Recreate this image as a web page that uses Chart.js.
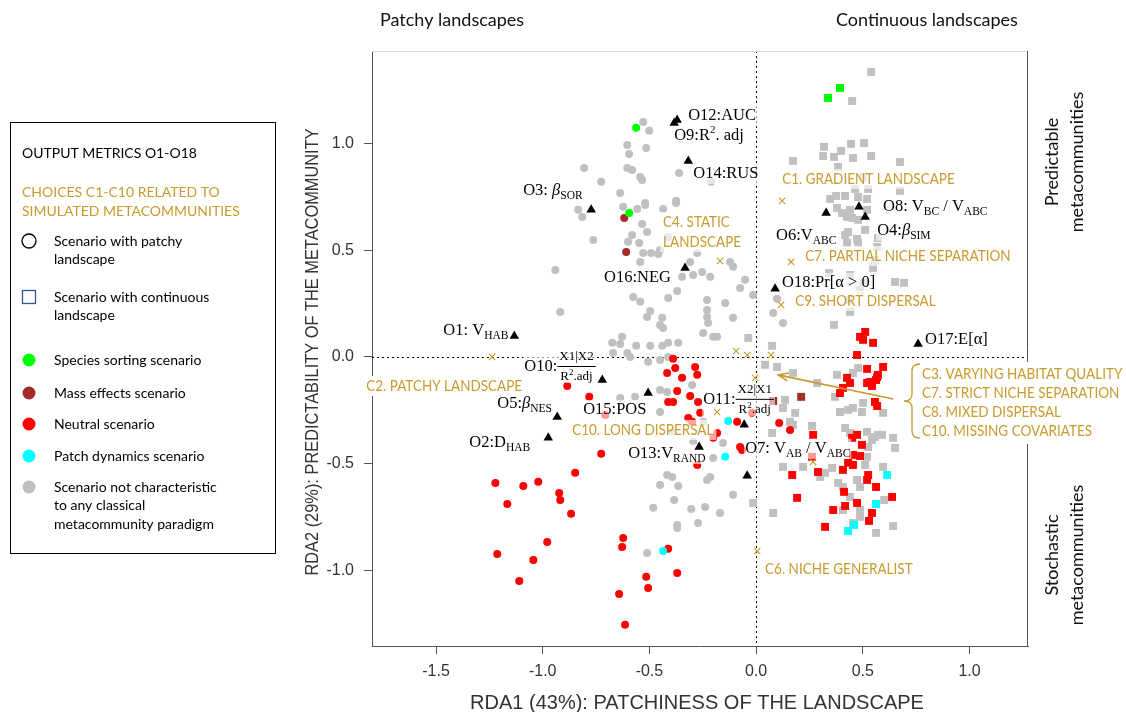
<!DOCTYPE html>
<html>
<head>
<meta charset="utf-8">
<script src="https://cdn.jsdelivr.net/npm/chart.js@4.4.0/dist/chart.umd.min.js"></script>
<style>
  html, body { margin: 0; padding: 0; background: #fff; }
  #wrap { width: 1126px; height: 712px; }
</style>
</head>
<body>
<div id="wrap"><canvas id="rda" width="1126" height="712"></canvas></div>
<script>
// axis ticks
const xTicks = [-1.5, -1.0, -0.5, 0.0, 0.5, 1.0];
const yTicks = [-1.0, -0.5, 0.0, 0.5, 1.0];

// patchy-landscape scenarios (circles)
const patchyGrey = [
  [-0.529, 1.101], [-0.501, 1.059], [-0.604, 0.993], [-0.595, 0.951], [-0.515, 0.979], [-0.806, 0.885],
  [-0.604, 0.885], [-0.581, 0.876], [-0.543, 0.843], [-0.534, 0.829], [-0.726, 0.820], [-0.361, 0.862],
  [-0.211, 0.820], [-0.637, 0.768], [-0.375, 0.731], [-0.520, 0.721], [-0.941, 0.407], [-0.918, 0.211],
  [-0.834, 0.689], [-0.815, 0.656], [-0.623, 0.703], [-0.557, 0.693], [-0.520, 0.712], [-0.436, 0.693],
  [-0.375, 0.721], [-0.534, 0.623], [-0.511, 0.585], [-0.581, 0.571], [-0.600, 0.539], [-0.548, 0.534],
  [-0.763, 0.548], [-0.529, 0.487], [-0.492, 0.487], [-0.543, 0.445], [-0.450, 0.501], [-0.459, 0.482],
  [-0.412, 0.562], [-0.276, 0.487], [-0.309, 0.445], [-0.122, 0.445], [-0.108, 0.422], [-0.253, 0.398],
  [-0.215, 0.375], [-0.347, 0.375], [-0.295, 0.384], [-0.052, 0.361], [-0.075, 0.323], [-0.014, 0.290],
  [-0.370, 0.309], [-0.576, 0.281], [-0.543, 0.258], [-0.412, 0.276], [-0.230, 0.267], [-0.145, 0.253],
  [-0.496, 0.215], [-0.440, 0.183], [-0.511, 0.187], [-0.230, 0.220], [-0.230, 0.187], [-0.225, 0.159],
  [-0.450, 0.150], [-0.436, 0.136], [-0.108, 0.183], [-0.628, 0.094], [-0.674, 0.066], [-0.637, 0.061],
  [-0.562, 0.052], [-0.496, 0.052], [-0.440, 0.052], [-0.412, 0.066], [-0.365, 0.066], [-0.248, 0.112],
  [-0.201, 0.094], [-0.183, 0.094], [-0.604, 0.019], [-0.590, 0.000], [-0.670, 0.019], [-0.506, -0.023],
  [-0.450, -0.014], [-0.412, 0.000], [-0.300, -0.131], [-0.637, -0.192], [-0.567, -0.187], [-0.450, -0.155],
  [-0.417, -0.164], [-0.450, -0.258], [-0.248, -0.304], [-0.393, -0.351], [-0.295, -0.398], [-0.155, -0.403],
  [-0.201, -0.473], [-0.417, -0.553], [-0.393, -0.562], [-0.215, -0.562], [-0.230, -0.576], [-0.365, -0.604],
  [-0.450, -0.600], [-0.108, -0.646], [-0.239, -0.703], [-0.169, -0.731], [-0.482, -0.707], [-0.384, -0.670],
  [-0.304, -0.712], [-0.370, -0.787], [-0.370, -0.801], [-0.272, -0.778], [-0.511, -0.918],
  [0.080, 0.206], [0.126, 0.159], [0.098, 0.272],
];
const patchyRed = [
  [-0.389, -0.009], [-0.379, -0.052], [-0.417, -0.075], [-0.347, -0.098], [-0.286, -0.047], [-0.276, -0.084],
  [-0.885, -0.136], [-0.782, -0.187], [-0.370, -0.159], [-0.412, -0.211], [-0.389, -0.211], [-0.309, -0.183],
  [-0.272, -0.211], [-0.262, -0.262], [-0.019, -0.262], [-0.089, -0.304], [-0.075, -0.422], [-0.066, -0.436],
  [-0.276, -0.506], [-0.726, -0.454], [-0.848, -0.543], [-1.222, -0.590], [-1.091, -0.604], [-1.021, -0.585],
  [-0.923, -0.637], [-0.918, -0.670], [-1.166, -0.689], [-0.867, -0.735], [-0.979, -0.867], [-1.213, -0.923],
  [-1.044, -0.951], [-1.110, -1.049], [-0.623, -0.848], [-0.628, -0.890], [-0.412, -0.899], [-0.370, -1.012],
  [-0.515, -1.030], [-0.506, -1.082], [-0.642, -1.110], [-0.614, -1.255], [0.108, -0.309], [0.159, -0.342],
  [-0.707, -0.272], [-0.318, -0.286], [-0.300, -0.304], [-0.183, -0.356], [-0.201, -0.379],
];
const patchyGreen = [[-0.562, 1.073], [-0.595, 0.674]];
const patchyBrown = [[-0.618, 0.651], [-0.609, 0.492]];
const patchyCyan = [[-0.131, -0.300], [-0.145, -0.468], [-0.436, -0.909]];

// continuous-landscape scenarios (squares)
const contGrey = [
  [0.539, 1.335], [0.450, 1.199], [0.318, 0.984], [0.445, 0.998], [0.506, 1.002], [0.398, 0.965],
  [0.314, 0.941], [0.365, 0.937], [0.454, 0.932], [0.539, 0.941], [0.173, 0.918], [0.674, 0.913],
  [0.384, 0.890], [0.501, 0.843], [0.464, 0.787], [0.525, 0.787], [0.674, 0.778], [0.347, 0.740],
  [0.375, 0.754], [0.417, 0.754], [0.478, 0.749], [0.520, 0.740], [0.403, 0.674], [0.426, 0.656],
  [0.450, 0.651], [0.478, 0.642], [0.440, 0.689], [0.379, 0.698], [0.520, 0.689], [0.511, 0.595],
  [0.431, 0.585], [0.417, 0.571], [0.473, 0.553], [0.478, 0.534], [0.426, 0.534], [0.571, 0.557],
  [0.567, 0.515], [0.557, 0.454], [0.548, 0.417], [0.342, 0.393], [0.440, 0.384], [0.651, 0.351],
  [0.693, 0.347], [0.501, 0.351], [0.487, 0.314], [0.431, 0.267], [0.440, 0.211], [0.365, 0.150],
  [0.075, 0.052], [-0.037, 0.089], [0.478, -0.052], [0.454, -0.075], [0.379, -0.084], [0.501, -0.215],
  [0.393, -0.258], [0.431, -0.248], [0.454, -0.239], [0.496, -0.258], [0.370, -0.187], [0.595, -0.262],
  [0.042, -0.037], [0.098, -0.047], [0.173, -0.075], [0.286, -0.122], [0.136, -0.201], [0.126, -0.239],
  [0.183, -0.262], [0.159, -0.304], [0.173, -0.318], [0.075, -0.356], [0.262, -0.323], [0.417, -0.333],
  [0.440, -0.356], [0.520, -0.351], [0.543, -0.389], [0.571, -0.365], [0.590, -0.365], [0.642, -0.379],
  [0.651, -0.426], [0.557, -0.375], [0.525, -0.422], [0.520, -0.468], [0.511, -0.506], [0.595, -0.515],
  [0.473, -0.576], [0.487, -0.609], [0.384, -0.590], [0.407, -0.609], [0.323, -0.543], [0.356, -0.520],
  [0.300, -0.562], [0.126, -0.515], [0.220, -0.515], [0.440, -0.656], [0.487, -0.717], [0.080, -0.731],
  [-0.014, -0.684], [0.407, -0.717], [0.487, -0.749], [0.454, -0.778], [0.562, -0.824], [0.642, -0.792],
  [0.600, -0.670],
];
const contRed = [
  [0.487, 0.094], [0.501, 0.080], [0.548, 0.066], [0.511, 0.117], [0.473, 0.009], [0.520, -0.056],
  [0.567, -0.094], [0.595, -0.047], [0.571, -0.084], [0.534, -0.117], [0.520, -0.122], [0.543, -0.136],
  [0.562, -0.108], [0.426, -0.098], [0.440, -0.122], [0.393, -0.169], [0.407, -0.145], [0.557, -0.211],
  [0.567, -0.230], [0.267, -0.365], [0.450, -0.379], [0.473, -0.365], [0.496, -0.412], [0.454, -0.459],
  [0.487, -0.464], [0.431, -0.496], [0.454, -0.506], [0.262, -0.468], [0.290, -0.539], [0.169, -0.553],
  [0.407, -0.529], [0.525, -0.553], [0.520, -0.576], [0.562, -0.609], [0.412, -0.632], [0.473, -0.684],
  [0.417, -0.698], [0.361, -0.717], [0.192, -0.660], [0.637, -0.656], [0.543, -0.731], [0.529, -0.768],
  [0.323, -0.796],
];
const contGreen = [[0.393, 1.260], [0.337, 1.213]];
const contBrown = [[0.211, -0.187], [0.080, -0.206]];
const contCyan = [[0.614, -0.553], [0.562, -0.689], [0.459, -0.787], [0.431, -0.815]];

// output metrics O1..O18 (triangles)
const metricIds = ['O1', 'O2', 'O3', 'O4', 'O5', 'O6', 'O7', 'O8', 'O9', 'O10', 'O11', 'O12', 'O13', 'O14', 'O15', 'O16', 'O17', 'O18'];
const metricX = [-1.133, -0.974, -0.773, 0.511, -0.932, 0.328, -0.042, 0.482, -0.384, -0.721, -0.056, -0.370, -0.267, -0.318, -0.506, -0.333, 0.759, 0.089];
const metricY = [0.098, -0.379, 0.689, 0.656, -0.281, 0.674, -0.557, 0.703, 1.096, -0.108, -0.318, 1.110, -0.422, 0.918, -0.169, 0.417, 0.061, 0.319];

// choices C1..C10 centroids (crosses)
const choicePoints = [
  [0.122, 0.731], [-0.169, 0.450], [0.164, 0.445], [0.117, 0.244], [-1.237, 0.000], [-0.094, 0.028],
  [-0.042, 0.009], [-0.005, -0.098], [0.070, 0.009], [-0.183, -0.258], [0.267, -0.492], [0.005, -0.909],
];

const GOLD = '#c99a2e';
const GREY = '#c0c0c0';
const SERIF = '"Liberation Serif", "Times New Roman", serif';
const SANS = 'Lato, "Noto Sans", sans-serif';
const GOLD_SX = 0.9;

// rich text for metric labels: [text, style]
const frac = (num) => ({ frac: [[[num, 'fs']], [['R', 'fs'], ['2', 'fsup'], ['.adj', 'fs']]] });
const metricText = {
  O1: [['O1: V'], ['HAB', 'sub']],
  O2: [['O2:D'], ['HAB', 'sub']],
  O3: [['O3: '], ['β', 'gi'], ['SOR', 'sub']],
  O4: [['O4:'], ['β', 'gi'], ['SIM', 'sub']],
  O5: [['O5:'], ['β', 'gi'], ['NES', 'sub']],
  O6: [['O6:V'], ['ABC', 'sub']],
  O7: [['O7: V'], ['AB', 'sub'], [' / V'], ['ABC', 'sub']],
  O8: [['O8: V'], ['BC', 'sub'], [' / V'], ['ABC', 'sub']],
  O9: [['O9:R'], ['2', 'sup'], ['. adj']],
  O10: [['O10:'], frac('X1|X2')],
  O11: [['O11:'], frac('X2|X1')],
  O12: [['O12:AUC']],
  O13: [['O13:V'], ['RAND', 'sub']],
  O14: [['O14:RUS']],
  O15: [['O15:POS']],
  O16: [['O16:NEG']],
  O17: [['O17:E[α]']],
  O18: [['O18:Pr[α > 0]']],
};
// label offsets from the triangle, in pixels
const metricOffset = {
  O1: [-71, -5], O2: [-79, 5], O3: [-68, -19], O4: [12, 14], O5: [-60, -13], O6: [-50, 23],
  O7: [-2, -27], O8: [24, 0], O9: [0, 13], O10: [-78, -13], O11: [-41, -25], O12: [11, -4],
  O13: [-71, 7], O14: [5, 13], O15: [-65, 17], O16: [-81, 10], O17: [7, -4], O18: [7, -6],
};

const choiceLabels = [
  { lines: ['C1. GRADIENT LANDSCAPE'], x: 0.122, y: 0.834 },
  { lines: ['C4. STATIC', 'LANDSCAPE'], x: -0.436, y: 0.632 },
  { lines: ['C7. PARTIAL NICHE SEPARATION'], x: 0.230, y: 0.473 },
  { lines: ['C9. SHORT DISPERSAL'], x: 0.183, y: 0.262 },
  { lines: ['C2. PATCHY LANDSCAPE'], x: -1.827, y: -0.136, solid: true },
  { lines: ['C10. LONG DISPERSAL'], x: -0.862, y: -0.342 },
  { lines: ['C6. NICHE GENERALIST'], x: 0.042, y: -0.993 },
];
const groupLines = ['C3. VARYING HABITAT QUALITY', 'C7. STRICT NICHE SEPARATION', 'C8. MIXED DISPERSAL', 'C10. MISSING COVARIATES'];

const legendRows = [
  { mark: 'ring', lines: ['Scenario with patchy', 'landscape'], y: 241 },
  { mark: 'box', lines: ['Scenario with continuous', 'landscape'], y: 297 },
  { mark: '#00ff00', lines: ['Species sorting scenario'], y: 360 },
  { mark: '#a52a2a', lines: ['Mass effects scenario'], y: 393 },
  { mark: '#ff0000', lines: ['Neutral scenario'], y: 424 },
  { mark: '#00ffff', lines: ['Patch dynamics scenario'], y: 456 },
  { mark: GREY, lines: ['Scenario not characteristic', 'to any classical', 'metacommunity paradigm'], y: 487 },
];

function fontFor(st) {
  switch (st) {
    case 'sub': return `11.5px ${SERIF}`;
    case 'sup': return `11px ${SERIF}`;
    case 'gi': return `italic 16.5px ${SERIF}`;
    case 'fs': return `13px ${SERIF}`;
    case 'fsup': return `9px ${SERIF}`;
    default: return `16.5px ${SERIF}`;
  }
}
const shift = { sub: 5, sup: -6, fsup: -4 };

function runSegs(ctx, segs, x, y, draw) {
  let cx = x;
  segs.forEach((s) => {
    if (s.frac) {
      const [num, den] = s.frac;
      const nw = runSegs(ctx, num, 0, 0, false);
      const dw = runSegs(ctx, den, 0, 0, false);
      const w = Math.max(nw, dw) + 4;
      if (draw) {
        runSegs(ctx, num, cx + (w - nw) / 2, y - 10, true);
        runSegs(ctx, den, cx + (w - dw) / 2, y + 10, true);
        ctx.fillRect(cx, y - 1, w, 1);
      }
      cx += w;
      return;
    }
    const [t, st = 'n'] = s;
    ctx.font = fontFor(st);
    if (draw) ctx.fillText(t, cx, y + (shift[st] || 0));
    cx += ctx.measureText(t).width;
  });
  return cx - x;
}

function squeezed(ctx, t, x, y, sx) {
  ctx.save();
  ctx.translate(x, y);
  ctx.scale(sx, 1);
  ctx.fillText(t, 0, 0);
  ctx.restore();
}

const toPts = (arr) => arr.map(([x, y]) => ({ x, y }));

function set(data, style, color, radius, extra = {}) {
  return Object.assign({
    data: toPts(data), pointStyle: style, pointRadius: radius, pointHoverRadius: radius,
    backgroundColor: color, borderColor: color, pointBorderWidth: 0, showLine: false,
  }, extra);
}

function drawLabels(chart) {
  const { ctx, scales: { x, y } } = chart;
  ctx.save();
  ctx.textBaseline = 'middle';
  ctx.textAlign = 'left';

  // gold choice labels on a faded white box
  ctx.font = `15px ${SANS}`;
  choiceLabels.forEach((c) => {
    const lx = x.getPixelForValue(c.x);
    const ly = y.getPixelForValue(c.y);
    const w = Math.max(...c.lines.map((l) => ctx.measureText(l).width)) * GOLD_SX;
    ctx.fillStyle = c.solid ? '#fff' : 'rgba(255,255,255,0.65)';
    ctx.fillRect(lx - 3, ly - 10, w + 6, 20 * (c.lines.length - 1) + 20);
  });
  ctx.fillStyle = GOLD;
  choiceLabels.forEach((c) => {
    const lx = x.getPixelForValue(c.x);
    const ly = y.getPixelForValue(c.y);
    c.lines.forEach((l, i) => squeezed(ctx, l, lx, ly + i * 20, GOLD_SX));
  });

  // metric labels
  metricIds.forEach((id, i) => {
    const [dx, dy] = metricOffset[id];
    const lx = x.getPixelForValue(metricX[i]) + dx;
    const ly = y.getPixelForValue(metricY[i]) + dy;
    const w = runSegs(ctx, metricText[id], lx, ly, false);
    const h = metricText[id].some((s) => s.frac) ? 32 : 20;
    ctx.fillStyle = 'rgba(255,255,255,0.6)';
    ctx.fillRect(lx - 1, ly - h / 2, w + 2, h);
    ctx.fillStyle = '#000';
    runSegs(ctx, metricText[id], lx, ly, true);
  });
  ctx.restore();
}

const decor = {
  id: 'decor',
  beforeDatasetsDraw(chart) {
    const { ctx, chartArea: a, scales: { x, y } } = chart;
    ctx.save();
    ctx.strokeStyle = '#000';
    ctx.lineWidth = 1;
    ctx.setLineDash([2, 3]);
    const x0 = Math.round(x.getPixelForValue(0)) + 0.5;
    const y0 = Math.round(y.getPixelForValue(0)) + 0.5;
    ctx.beginPath();
    ctx.moveTo(x0, a.top); ctx.lineTo(x0, a.bottom);
    ctx.moveTo(a.left, y0); ctx.lineTo(a.right, y0);
    ctx.stroke();
    ctx.setLineDash([]);
    ctx.strokeStyle = '#dcdcdc';
    ctx.beginPath(); ctx.moveTo(a.left, a.top + 0.5); ctx.lineTo(a.right, a.top + 0.5); ctx.stroke();
    ctx.strokeStyle = '#555';
    ctx.beginPath(); ctx.moveTo(a.right - 0.5, a.top); ctx.lineTo(a.right - 0.5, a.bottom); ctx.stroke();
    ctx.restore();
  },
  // labels go over the scenario points but under the crosses and triangles
  beforeDatasetDraw(chart, args) {
    if (args.index === 1) drawLabels(chart);
  },
  afterDatasetsDraw(chart) {
    const { ctx, scales: { x, y } } = chart;
    ctx.save();
    ctx.textBaseline = 'middle';
    ctx.textAlign = 'left';

    // arrow to the four choices near the origin
    const ax0 = x.getPixelForValue(0.642), ay0 = y.getPixelForValue(-0.197);
    const ax1 = x.getPixelForValue(0.103), ay1 = y.getPixelForValue(-0.084);
    ctx.strokeStyle = GOLD;
    ctx.lineWidth = 1.6;
    ctx.beginPath(); ctx.moveTo(ax0, ay0); ctx.lineTo(ax1, ay1); ctx.stroke();
    const ang = Math.atan2(ay0 - ay1, ax0 - ax1);
    ctx.beginPath();
    ctx.moveTo(ax1 + 11 * Math.cos(ang - 0.38), ay1 + 11 * Math.sin(ang - 0.38));
    ctx.lineTo(ax1, ay1);
    ctx.lineTo(ax1 + 11 * Math.cos(ang + 0.38), ay1 + 11 * Math.sin(ang + 0.38));
    ctx.stroke();

    // bracketed group of choices
    ctx.fillStyle = '#fff';
    ctx.fillRect(916, 362, 210, 82);
    ctx.lineWidth = 1.3;
    ctx.beginPath();
    ctx.moveTo(920, 364);
    ctx.quadraticCurveTo(912, 364, 912, 371);
    ctx.lineTo(912, 394);
    ctx.quadraticCurveTo(912, 401, 904, 401);
    ctx.quadraticCurveTo(912, 401, 912, 408);
    ctx.lineTo(912, 431);
    ctx.quadraticCurveTo(912, 438, 920, 438);
    ctx.stroke();
    ctx.fillStyle = GOLD;
    ctx.font = `15px ${SANS}`;
    groupLines.forEach((l, i) => squeezed(ctx, l, 922, 374 + i * 19, GOLD_SX));
    ctx.restore();
  },
  afterDraw(chart) {
    const { ctx } = chart;
    ctx.save();
    ctx.textBaseline = 'middle';
    ctx.textAlign = 'left';

    // legend
    ctx.strokeStyle = '#000';
    ctx.lineWidth = 1;
    ctx.strokeRect(10.5, 122.5, 265, 431);
    ctx.font = `14px ${SANS}`;
    ctx.fillStyle = '#000';
    ctx.fillText('OUTPUT METRICS O1-O18', 22, 153);
    ctx.fillStyle = GOLD;
    ctx.fillText('CHOICES C1-C10 RELATED TO', 22, 192);
    ctx.fillText('SIMULATED METACOMMUNITIES', 22, 211);
    legendRows.forEach((r) => {
      if (r.mark === 'ring') {
        ctx.strokeStyle = '#000'; ctx.lineWidth = 1.3;
        ctx.beginPath(); ctx.arc(29, r.y, 7, 0, Math.PI * 2); ctx.stroke();
      } else if (r.mark === 'box') {
        ctx.strokeStyle = '#2f5597'; ctx.lineWidth = 1.3;
        ctx.strokeRect(22.5, r.y - 6.5, 13, 13);
      } else {
        ctx.fillStyle = r.mark;
        ctx.beginPath(); ctx.arc(29, r.y, 6.5, 0, Math.PI * 2); ctx.fill();
      }
      ctx.fillStyle = '#000';
      r.lines.forEach((l, i) => ctx.fillText(l, 54, r.y + i * 18.5));
    });

    // landscape / predictability labels
    ctx.font = `18px ${SANS}`;
    ctx.fillStyle = '#111';
    ctx.fillText('Patchy landscapes', 380, 20);
    ctx.fillText('Continuous landscapes', 836, 20);
    ctx.textAlign = 'center';
    [['Predictable', 'metacommunities', 162], ['Stochastic', 'metacommunities', 555]].forEach(([a, b, cy]) => {
      ctx.save();
      ctx.translate(1052, cy); ctx.rotate(-Math.PI / 2); ctx.fillText(a, 0, 0); ctx.restore();
      ctx.save();
      ctx.translate(1077, cy); ctx.rotate(-Math.PI / 2); ctx.fillText(b, 0, 0); ctx.restore();
    });

    // axis titles
    ctx.fillStyle = '#333';
    ctx.font = '20px "Liberation Sans", Arial, sans-serif';
    ctx.fillText('RDA1 (43%): PATCHINESS OF THE LANDSCAPE', 697, 703);
    ctx.font = '18px "Liberation Sans", Arial, sans-serif';
    ctx.save();
    ctx.translate(313, 352); ctx.rotate(-Math.PI / 2);
    squeezed(ctx, 'RDA2 (29%): PREDICTABILITY OF THE METACOMMUNITY', 0, 0, 0.91);
    ctx.restore();
    ctx.restore();
  },
};

const tickFont = { family: '"Liberation Sans", Arial, sans-serif', size: 16 };

new Chart(document.getElementById('rda'), {
  type: 'scatter',
  data: {
    datasets: [
      set(metricIds.map((_, i) => [metricX[i], metricY[i]]), 'triangle', '#000', 5.5),
      set(choicePoints, 'crossRot', GOLD, 4.5, { pointBorderWidth: 1.1 }),
      set(patchyCyan, 'circle', '#00ffff', 4),
      set(patchyGreen, 'circle', '#00ff00', 4),
      set(patchyBrown, 'circle', '#a52a2a', 4),
      set(patchyRed, 'circle', '#ff0000', 4),
      set(contCyan, 'rect', '#00ffff', 5.6),
      set(contGreen, 'rect', '#00ff00', 5.6),
      set(contBrown, 'rect', '#a52a2a', 5.6),
      set(contRed, 'rect', '#ff0000', 5.6),
      set(contGrey, 'rect', GREY, 5.6),
      set(patchyGrey, 'circle', GREY, 4),
    ],
  },
  options: {
    responsive: false,
    animation: false,
    devicePixelRatio: 1,
    layout: { padding: { left: 312, right: 98, top: 51, bottom: 0 } },
    plugins: { legend: { display: false }, tooltip: { enabled: false } },
    scales: {
      x: {
        type: 'linear', min: -1.8, max: 1.274,
        afterBuildTicks: (s) => { s.ticks = xTicks.map((v) => ({ value: v })); },
        afterFit: (s) => { s.height = 66; },
        grid: { drawOnChartArea: false, drawTicks: true, tickLength: 8, color: '#555' },
        border: { display: true, color: '#555', width: 1 },
        ticks: { font: tickFont, color: '#333', padding: 8, maxRotation: 0, callback: (v) => v.toFixed(1) },
      },
      y: {
        type: 'linear', min: -1.354, max: 1.433,
        afterBuildTicks: (s) => { s.ticks = yTicks.map((v) => ({ value: v })); },
        afterFit: (s) => { s.width = 60; },
        grid: { drawOnChartArea: false, drawTicks: true, tickLength: 8, color: '#555' },
        border: { display: true, color: '#555', width: 1 },
        ticks: { font: tickFont, color: '#333', padding: 10, callback: (v) => v.toFixed(1) },
      },
    },
  },
  plugins: [decor],
});
</script>
</body>
</html>
